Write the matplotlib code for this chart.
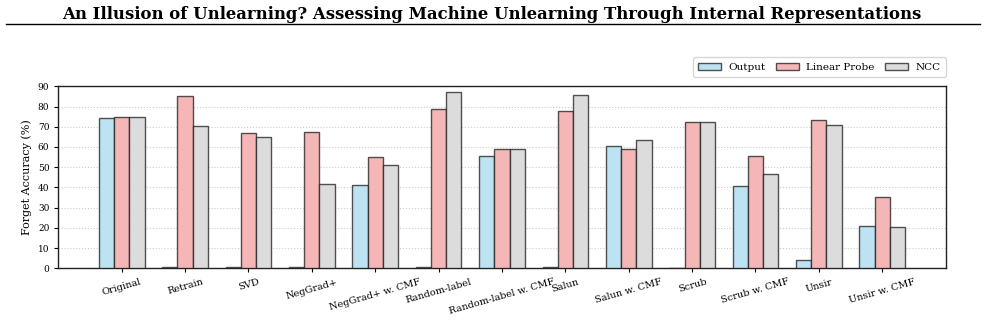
import matplotlib
matplotlib.use("Agg")
import matplotlib.pyplot as plt
import numpy as np

categories = ["Original", "Retrain", "SVD", "NegGrad+", "NegGrad+ w. CMF", "Random-label",
              "Random-label w. CMF", "Salun", "Salun w. CMF", "Scrub", "Scrub w. CMF",
              "Unsir", "Unsir w. CMF"]
output_acc = [74.2, 0.8, 0.8, 0.8, 41.0, 0.8, 55.5, 0.8, 60.3, 0.2, 40.5, 3.9, 21.1]
linear_probe_acc = [75.0, 85.2, 66.9, 67.3, 55.2, 78.8, 59.2, 77.6, 59.2, 72.2, 55.4, 73.5, 35.3]
ncc_acc = [75.0, 70.4, 64.8, 41.5, 51.2, 87.0, 59.2, 85.5, 63.5, 72.2, 46.8, 71.0, 20.3]
series_names = ["Output", "Linear Probe", "NCC"]
yticks = list(range(0, 91, 10))

plt.rcParams['font.family'] = ['DejaVu Serif']

fig = plt.figure(figsize=(9.84, 3.25), dpi=100)
ax = fig.add_axes([0.0593, 0.1745, 0.9017, 0.56])

x = np.arange(len(categories))
w = 0.24
colors = ["#BDE3F3", "#F4B6B6", "#DCDCDC"]
edge = (0.1, 0.1, 0.1, 0.75)
for i, (vals, name, c) in enumerate(zip([output_acc, linear_probe_acc, ncc_acc], series_names, colors)):
    ax.bar(x + (i - 1) * w, vals, w, color=c, edgecolor=edge, linewidth=1.0, label=name, zorder=3)

ax.set_xlim(-1, len(categories))
ax.set_ylim(0, 90)
ax.set_yticks(yticks)
ax.set_xticks(x)
ax.set_xticklabels(categories, rotation=16, ha='center', fontsize=7)
ax.tick_params(axis='y', labelsize=6.5, length=3, width=0.8)
ax.tick_params(axis='x', length=3, width=0.8)
ax.set_ylabel("Forget Accuracy (%)", fontsize=8)
ax.yaxis.grid(True, linestyle=':', color='#cccccc', linewidth=0.8, zorder=0)
ax.set_axisbelow(True)
for s in ax.spines.values():
    s.set_linewidth(1.0)
    s.set_color('#222222')

leg = ax.legend(loc='lower right', bbox_to_anchor=(1.0, 1.05), borderaxespad=0.0, ncol=3, fontsize=7.5,
                frameon=True, fancybox=True, edgecolor='#cccccc', handlelength=2.2,
                columnspacing=1.0, handletextpad=0.7, borderpad=0.5)

fig.text(0.5, 0.955, "An Illusion of Unlearning? Assessing Machine Unlearning Through Internal Representations",
         ha='center', va='center', fontsize=11.9, fontweight='bold', family=['DejaVu Serif'])
fig.add_artist(matplotlib.lines.Line2D([0.006, 0.996], [0.925, 0.925], color='black', linewidth=1.0,
                                       transform=fig.transFigure))

fig.savefig("out.png", dpi=100)
